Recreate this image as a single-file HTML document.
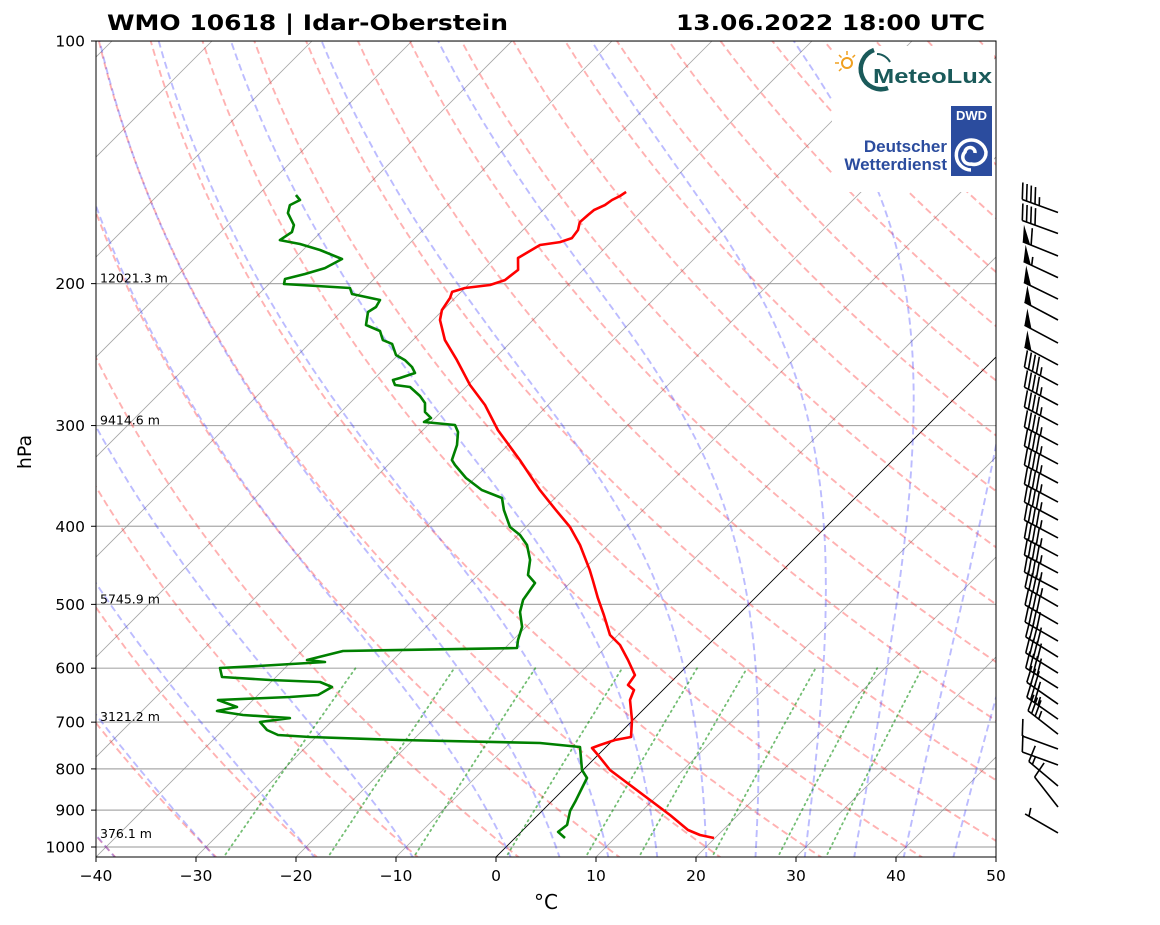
<!DOCTYPE html>
<html><head><meta charset="utf-8"><style>
html,body{margin:0;padding:0;background:#fff;}
svg{display:block;font-family:"DejaVu Sans","Liberation Sans",sans-serif;}
</style></head><body>
<svg id="chart" width="1160" height="925" viewBox="0 0 1160 925" xmlns="http://www.w3.org/2000/svg">
<defs><clipPath id="plotclip"><rect x="96" y="41" width="900" height="816"/></clipPath></defs>
<rect x="0" y="0" width="1160" height="925" fill="#fff"/>
<text x="107" y="30" font-size="21" font-weight="bold" textLength="401" lengthAdjust="spacingAndGlyphs">WMO 10618 | Idar-Oberstein</text>
<text x="676" y="30" font-size="21" font-weight="bold" textLength="309" lengthAdjust="spacingAndGlyphs">13.06.2022 18:00 UTC</text>
<g id="bg" clip-path="url(#plotclip)"></g>
<g id="logos">
  <rect x="832" y="46" width="162" height="146" fill="#fff"/>
  <g>
    <circle cx="847" cy="63" r="5" fill="none" stroke="#f0a020" stroke-width="2"/>
    <g stroke="#f0a020" stroke-width="1.5">
      <line x1="847" y1="51" x2="847" y2="55"/><line x1="835" y1="63" x2="839" y2="63"/>
      <line x1="839" y1="55" x2="841.5" y2="57.5"/><line x1="855" y1="55" x2="852.5" y2="57.5"/><line x1="839" y1="71" x2="841.5" y2="68.5"/>
    </g>
    <path d="M874 50 A19 19 0 1 0 888 88" fill="none" stroke="#1a5a5a" stroke-width="4.5"/>
    <path d="M877 54 A15 15 0 0 1 890 62" fill="none" stroke="#1a5a5a" stroke-width="2"/>
    <text x="873" y="83" font-size="20" font-weight="bold" fill="#1a5a5a" font-family="Liberation Sans, sans-serif" textLength="119" lengthAdjust="spacingAndGlyphs">MeteoLux</text>
  </g>
  <g>
    <rect x="951" y="106" width="41" height="70" fill="#2b4c9e"/>
    <text x="971.5" y="120" font-size="13" font-weight="bold" fill="#fff" text-anchor="middle" font-family="Liberation Sans, sans-serif">DWD</text>
    <path d="M971 170 A15 15 0 1 1 986 152 A12 12 0 0 1 971 164 A7 7 0 0 1 965 152 A5 5 0 0 1 975 153" fill="none" stroke="#fff" stroke-width="3.5"/>
    <text x="947" y="152" font-size="17" font-weight="bold" fill="#2b4c9e" text-anchor="end" font-family="Liberation Sans, sans-serif">Deutscher</text>
    <text x="947" y="170" font-size="17" font-weight="bold" fill="#2b4c9e" text-anchor="end" font-family="Liberation Sans, sans-serif">Wetterdienst</text>
  </g>
</g>
<g id="data" clip-path="url(#plotclip)"></g>
<rect x="96" y="41" width="900" height="816" fill="none" stroke="#000" stroke-width="1"/>
<g id="axes"></g>
<g id="barbs"></g>
<text x="0" y="0" font-size="19" text-anchor="middle" transform="translate(31,452) rotate(-90)">hPa</text>
<text x="546" y="909" font-size="20" text-anchor="middle">°C</text>
</svg>
<script>
const tempP=[974.5,966.3,952.6,912.6,874.3,837.7,802.6,768.9,753.7,747.2,736.6,730.4,695.8,657.1,638.6,629.6,611.9,586.1,561.5,545.8,515.6,491.1,466.6,453.5,422.0,400.9,381.9,360.7,331.1,303.9,282.9,267.2,248.8,235.0,221.9,215.7,208.4,204.8,202.5,200.8,198.0,192.3,185.9,179.1,177.6,175.6,171.6,167.8,164.4,162.1,159.8,157.5,155.7,153.9];
const tempT=[19.9,18.2,16.5,13.2,9.7,6.2,2.7,0,-1.3,-0.8,0.2,1.5,-0.1,-2.3,-2.9,-4,-4.3,-6.5,-8.8,-10.8,-13.4,-15.7,-18,-19.3,-22.8,-25.6,-28.7,-32.3,-37.3,-42.5,-46.3,-49.8,-53.6,-56.8,-59.3,-60.1,-60.5,-60.9,-60,-57.8,-56.8,-56.5,-57.7,-56.8,-55.1,-54.3,-54.5,-55.1,-55,-54.9,-54.3,-54.1,-53.7,-53.5];
const dewP=[974.5,957.8,938.8,902.0,879.2,844.8,821.1,802.6,751.6,743.0,736.6,730.4,726.1,715.8,699.7,691.9,685.8,678.1,670.3,657.1,651.5,647.8,633.2,624.1,620.6,615.3,599.7,596.2,589.5,586.1,571.2,566.3,553.6,533.3,511.0,493.7,470.4,459.7,440.4,422.0,410.1,400.9,381.9,369.0,360.7,348.5,335.8,331.1,317.1,305.6,299.5,297.0,293.6,288.6,281.3,275.7,268.7,267.2,263.4,261.9,258.2,253.8,248.8,245.2,237.6,235.0,229.0,225.1,216.9,213.8,209.6,206.0,202.5,200.2,197.4,194.6,191.3,186.4,181.7,178.6,176.6,172.6,169.2,163.5,159.8,157.5,155.3];
const dewT=[5.0,3.7,3.9,2.8,2.4,1.7,1.2,-0.1,-2.6,-7.0,-21.3,-30.6,-34.0,-35.6,-37.1,-34.5,-39.5,-42.5,-40.9,-43.5,-36.6,-34.0,-33.4,-35.1,-40.3,-45.4,-46.5,-42.9,-36.6,-38.6,-35.9,-18.8,-19.5,-20.4,-22.1,-23.0,-23.5,-25.0,-26.3,-28.1,-29.8,-31.6,-33.9,-35.3,-38.1,-40.9,-43.3,-44.1,-45.1,-46.3,-47.3,-50.7,-50.4,-51.6,-52.5,-53.7,-55.6,-57.3,-58.0,-57.5,-56.5,-57.4,-58.8,-60.2,-61.7,-63.0,-64.2,-66.2,-67.3,-67.0,-67.3,-70.7,-71.5,-78.5,-78.9,-77.4,-76.0,-75.2,-78.3,-80.9,-83.3,-82.9,-83.4,-85.2,-85.8,-85.3,-86.2];
const pressTicks=[100,200,300,400,500,600,700,800,900,1000];
const tempTicks=[-40,-30,-20,-10,0,10,20,30,40,50];
const heightP=[200,300,500,700,1000];
const heightLabels=["12021.3 m","9414.6 m","5745.9 m","3121.2 m","376.1 m"];
const heightOffsets=[-1,-1,-1,-1,-9];
const barbP=[163.2,173.3,184.8,196.6,209.0,221.9,237.0,252.3,267.2,282.9,299.5,317.1,334.8,353.5,373.3,392.9,413.6,435.5,457.1,479.9,503.0,528.8,555.2,581.2,608.4,635.0,664.8,694.0,724.4,755.7,791.1,840.0,891.9,960.7];
const barbSpd=[45,40,60,55,50,50,50,50,45,45,45,45,45,45,45,45,45,45,45,45,45,40,40,40,40,40,35,35,35,10,10,15,10,5];
const barbDir=[290,290,292,295,296,298,298,298,298,298,298,298,298,298,298,298,298,298,298,298,300,300,300,302,302,302,305,305,308,290,290,310,322,300];

const NS="http://www.w3.org/2000/svg";
const X0=96,X1=996,Y0=41,Y1=857;
function yP(p){return 41+806*Math.log10(p/100);}
function xT(T,p){return 506+10*T+(847-yP(p));}
function mk(tag,attrs,parent){const e=document.createElementNS(NS,tag);for(const k in attrs)e.setAttribute(k,attrs[k]);parent.appendChild(e);return e;}
function pathFrom(pts){return pts.map((q,i)=>(i?'L':'M')+q[0].toFixed(1)+' '+q[1].toFixed(1)).join(' ');}
const bg=document.getElementById('bg'),data=document.getElementById('data'),axes=document.getElementById('axes'),barbs=document.getElementById('barbs');
const PB=1035,PT=100;
pressTicks.forEach(p=>{const l=mk('line',{x1:X0,x2:X1,y1:yP(p),y2:yP(p),stroke:'#aaa','stroke-width':1.2},bg);

});
for(let T=-140;T<=50;T+=10){const l=mk('line',{x1:xT(T,PB),y1:yP(PB),x2:xT(T,PT),y2:yP(PT),stroke:T===0?'#000':'#888','stroke-width':T===0?0.9:0.8,'stroke-opacity':T===0?1:0.75},bg);

}
for(let t0=-40;t0<=200;t0+=10){const th=t0+273.15,pts=[];for(let p=PB;p>=PT-1;p-=5){pts.push([xT(th*Math.pow(p/1000,0.2857)-273.15,p),yP(p)]);}
const e=mk('path',{d:pathFrom(pts),fill:'none',stroke:'#f22','stroke-opacity':0.35,'stroke-width':1.9,'stroke-dasharray':'7 4'},bg);

}
function es(Tc){return 6.112*Math.exp(17.67*Tc/(Tc+243.5));}
function dTdp(T,p){const Tc=T-273.15,e=es(Tc),rs=0.622*e/Math.max(p-e,1);const Rd=287.04,Cp=1005.7,Lv=2.501e6;return (Rd*T+Lv*rs)/(p*(Cp+Lv*Lv*rs*0.622/(Rd*T*T)));}
const moist=[-40,-30,-20,-10,0,5,10,15,20,25,30,35,40,45];
moist.forEach(t0=>{let pts=[];let T=t0+273.15,p=1000;const dp=1;
let Tb=T;for(let q=1000;q<PB;q+=dp){Tb+=dTdp(Tb,q)*dp;}pts.push([xT(Tb-273.15,PB),yP(PB)]);
for(p=1000;p>=PT;p-=dp){if(p%5===0)pts.push([xT(T-273.15,p),yP(p)]);T-=dTdp(T,p)*dp;}
const e=mk('path',{d:pathFrom(pts),fill:'none',stroke:'#22f','stroke-opacity':0.3,'stroke-width':1.9,'stroke-dasharray':'7 4'},bg);

});
[0.0004,0.001,0.002,0.004,0.007,0.01,0.016,0.024,0.032].forEach(w=>{const pts=[];for(let p=PB;p>=600;p-=5){const e=w*p/(0.622+w),l=Math.log(e/6.112);pts.push([xT(243.5*l/(17.67-l),p),yP(p)]);}
const e=mk('path',{d:pathFrom(pts),fill:'none',stroke:'#080','stroke-opacity':0.55,'stroke-width':1.8,'stroke-dasharray':'1.5 4','stroke-linecap':'round'},bg);

});
const tp=mk('path',{d:pathFrom(tempP.map((p,i)=>[xT(tempT[i],p),yP(p)])),fill:'none',stroke:'#f00','stroke-width':2.6,'stroke-linejoin':'round'},data);


const dp=mk('path',{d:pathFrom(dewP.map((p,i)=>[xT(dewT[i],p),yP(p)])),fill:'none',stroke:'#008000','stroke-width':2.6,'stroke-linejoin':'round'},data);


heightP.forEach((p,i)=>{const t=mk('text',{x:100,y:yP(p)+heightOffsets[i],'font-size':12.5},axes);t.textContent=heightLabels[i];

});
pressTicks.forEach(p=>{const y=yP(p);mk('line',{x1:91,x2:96,y1:y,y2:y,stroke:'#000'},axes);
const t=mk('text',{x:85,y:y+5.5,'font-size':15.5,'text-anchor':'end'},axes);t.textContent=p;

});
tempTicks.forEach(T=>{const x=96+(T+40)*10;mk('line',{x1:x,x2:x,y1:857,y2:862,stroke:'#000'},axes);
const t=mk('text',{x:x,y:881,'font-size':15.5,'text-anchor':'middle'},axes);t.textContent=(T<0?'\u2212'+(-T):T);

});
barbP.forEach((p,i)=>{const bx=1058,by=yP(p),L=38;const a=barbDir[i]*Math.PI/180;const dx=Math.sin(a),dy=-Math.cos(a);
const tx=bx+dx*L,ty=by+dy*L;const g=mk('g',{},barbs);


mk('line',{x1:bx,y1:by,x2:tx,y2:ty,stroke:'#000','stroke-width':1.6},g);
const ang=Math.atan2(dy,dx)+72*Math.PI/180;const fx=Math.cos(ang),fy=Math.sin(ang);
let s=Math.round(barbSpd[i]/5)*5,pos=0;const step=4.5,FL=17;
while(s>=50){const ax=tx-dx*pos,ay=ty-dy*pos,cx=tx-dx*(pos+8),cy=ty-dy*(pos+8);
mk('polygon',{points:`${ax},${ay} ${ax+fx*FL},${ay+fy*FL} ${cx},${cy}`,fill:'#000'},g);s-=50;pos+=9;}
while(s>=10){const ax=tx-dx*pos,ay=ty-dy*pos;mk('line',{x1:ax,y1:ay,x2:ax+fx*FL,y2:ay+fy*FL,stroke:'#000','stroke-width':1.6},g);s-=10;pos+=step;}
if(s>=5){if(pos===0)pos=step;const ax=tx-dx*pos,ay=ty-dy*pos;mk('line',{x1:ax,y1:ay,x2:ax+fx*FL/2,y2:ay+fy*FL/2,stroke:'#000','stroke-width':1.6},g);}
});
</script>
</body></html>
